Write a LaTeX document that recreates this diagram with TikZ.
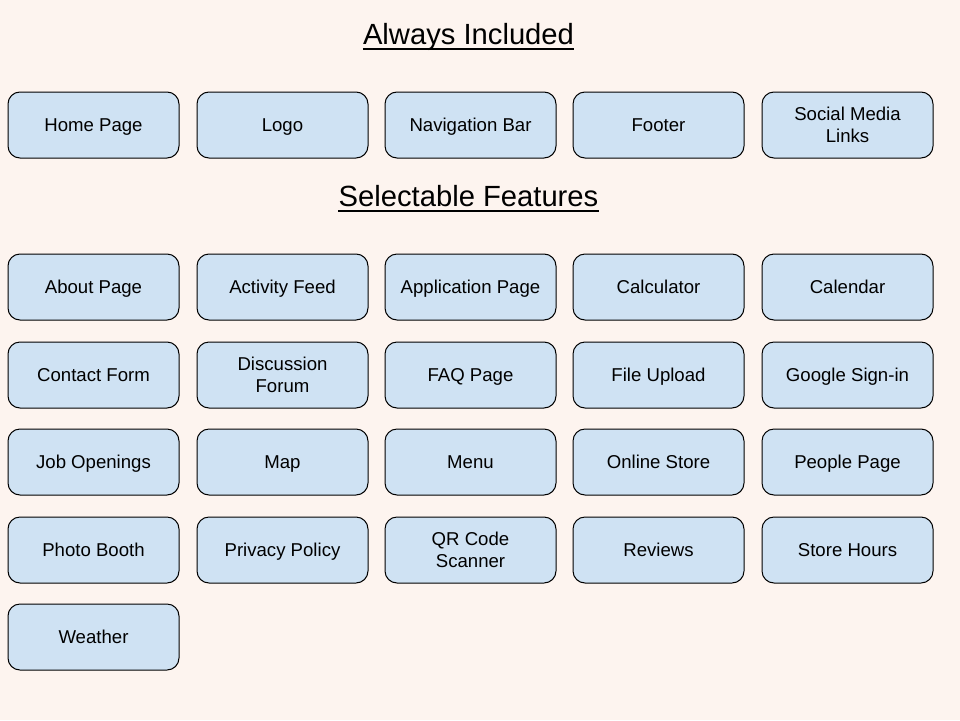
\documentclass[tikz,border=0pt]{standalone}
\usepackage{fontspec}
\setmainfont{Liberation Sans}
\begin{document}
\begin{tikzpicture}[x=1pt,y=-1pt,
  feat/.style={draw=black,line width=1pt,fill=boxblue,rounded corners=12pt,
    minimum width=171pt,minimum height=66pt,inner sep=2pt,align=center,
    text height=13.4pt,text depth=0pt,
    font=\fontsize{18.6}{22}\selectfont},
  twoline/.style={text height=35.4pt},
  ttl/.style={inner sep=0pt,anchor=base,font=\fontsize{29.2}{34}\selectfont},
  uline/.style={line width=1.8pt}]
\definecolor{bgc}{HTML}{FDF4EF}
\definecolor{boxblue}{HTML}{CFE2F3}
\fill[bgc] (0,0) rectangle (960,720);
\useasboundingbox (0,0) rectangle (960,720);
\def\ca{93.5}\def\cb{282.5}\def\cc{470.5}\def\cd{658.5}\def\ce{847.5}
\node[ttl] (t1) at (468.5,44) {Always Included};
\draw[uline] ([yshift=-4.8pt]t1.base west) -- ([yshift=-4.8pt]t1.base east);
\node[ttl] (t2) at (468.5,206) {Selectable Features};
\draw[uline] ([yshift=-4.8pt]t2.base west) -- ([yshift=-4.8pt]t2.base east);
% always included
\node[feat] (home) at (\ca,125) {Home Page};
\node[feat] (logo) at (\cb,125) {Logo};
\node[feat] (nav) at (\cc,125) {Navigation Bar};
\node[feat] (foot) at (\cd,125) {Footer};
\node[feat,twoline] (soc) at (\ce,125) {Social Media\\Links};
% selectable
\node[feat] (about) at (\ca,287) {About Page};
\node[feat] (act) at (\cb,287) {Activity Feed};
\node[feat] (app) at (\cc,287) {Application Page};
\node[feat] (calc) at (\cd,287) {Calculator};
\node[feat] (cal) at (\ce,287) {Calendar};
\node[feat] (contact) at (\ca,375) {Contact Form};
\node[feat,twoline] (disc) at (\cb,375) {Discussion\\Forum};
\node[feat] (faq) at (\cc,375) {FAQ Page};
\node[feat] (file) at (\cd,375) {File Upload};
\node[feat] (goog) at (\ce,375) {Google Sign-in};
\node[feat] (job) at (\ca,462) {Job Openings};
\node[feat] (map) at (\cb,462) {Map};
\node[feat] (menu) at (\cc,462) {Menu};
\node[feat] (store) at (\cd,462) {Online Store};
\node[feat] (people) at (\ce,462) {People Page};
\node[feat] (photo) at (\ca,550) {Photo Booth};
\node[feat] (priv) at (\cb,550) {Privacy Policy};
\node[feat,twoline] (qr) at (\cc,550) {QR Code\\Scanner};
\node[feat] (rev) at (\cd,550) {Reviews};
\node[feat] (hours) at (\ce,550) {Store Hours};
\node[feat] (weather) at (\ca,637) {Weather};
\end{tikzpicture}
\end{document}
